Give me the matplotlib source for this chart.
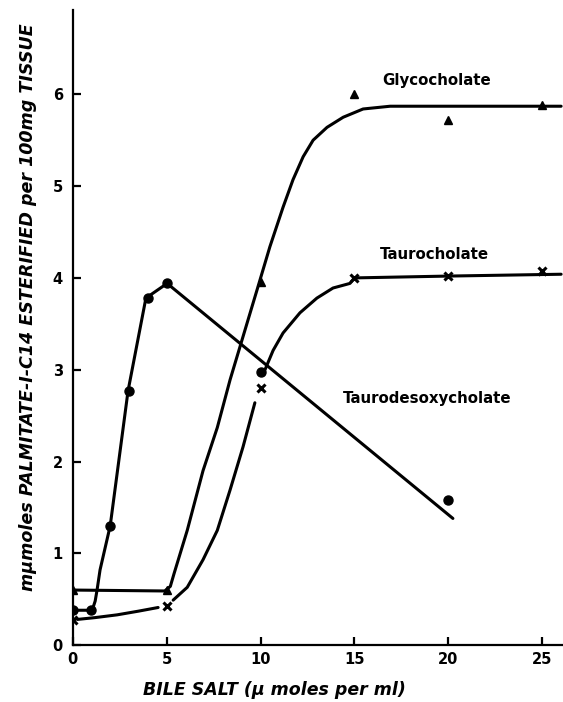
import matplotlib.pyplot as plt

# measured points (bile salt conc, umoles esterified)
glyco_x = [0, 5, 10, 15, 20, 25]
glyco_y = [0.6, 0.6, 3.95, 6.0, 5.72, 5.88]
tauro_x = [0, 5, 10, 15, 20, 25]
tauro_y = [0.27, 0.43, 2.8, 4.0, 4.02, 4.08]
tdesoxy_x = [0, 1, 2, 3, 4, 5, 10, 20]
tdesoxy_y = [0.38, 0.38, 1.3, 2.77, 3.78, 3.94, 2.97, 1.58]

# hand-drawn fit curves
glyco_fit_x = [0, 4.9, 5.2, 5.4, 6.1, 6.94, 7.7, 8.38, 9.86, 10.5, 11.2, 11.73,
               12.27, 12.8, 13.54, 14.4, 15.46, 16.9, 26.0]
glyco_fit_y = [0.6, 0.59, 0.64, 0.78, 1.25, 1.9, 2.37, 2.89, 3.90, 4.34, 4.77, 5.07,
               5.32, 5.50, 5.64, 5.75, 5.84, 5.87, 5.87]
tauro_fit_lo_x = [0.25, 1.2, 2.37, 3.5, 4.55]
tauro_fit_lo_y = [0.28, 0.30, 0.33, 0.37, 0.41]
tauro_fit_x = [5.35, 6.1, 6.94, 7.7, 8.38, 9.07, 9.7]
tauro_fit_y = [0.49, 0.63, 0.93, 1.25, 1.69, 2.16, 2.64]
tauro_fit2_x = [10.24, 10.67, 11.2, 12.1, 13.0, 13.86, 14.76, 15.0, 20.0, 26.0]
tauro_fit2_y = [3.0, 3.21, 3.40, 3.62, 3.78, 3.89, 3.94, 4.0, 4.02, 4.04]
tdesoxy_fit_x = [0, 1.04, 1.2, 1.3, 1.46, 2.0, 2.95, 3.9, 5.03, 20.24]
tdesoxy_fit_y = [0.38, 0.38, 0.48, 0.6, 0.82, 1.30, 2.77, 3.78, 3.94, 1.38]

fig = plt.figure(figsize=(5.63, 7.02), dpi=100)
ax = fig.add_axes([0.129, 0.081, 0.871, 0.905])

lw = 2.2
for fx, fy in [(glyco_fit_x, glyco_fit_y), (tauro_fit_lo_x, tauro_fit_lo_y),
               (tauro_fit_x, tauro_fit_y), (tauro_fit2_x, tauro_fit2_y),
               (tdesoxy_fit_x, tdesoxy_fit_y)]:
    ax.plot(fx, fy, color="black", lw=lw, solid_joinstyle="round",
            solid_capstyle="round")

ax.plot(glyco_x, glyco_y, "^", color="black", ms=5.5, ls="none")
ax.plot(tauro_x, tauro_y, "x", color="black", ms=6, mew=2.2, ls="none")
ax.plot(tdesoxy_x, tdesoxy_y, "o", color="black", ms=6.5, ls="none")

ax.set_xlim(0, 26.1)
ax.set_ylim(0, 6.92)
ax.spines["top"].set_visible(False)
ax.spines["right"].set_visible(False)
ax.spines["left"].set_linewidth(1.6)
ax.spines["bottom"].set_linewidth(1.6)

ax.set_xticks([0, 5, 10, 15, 20, 25])
ax.set_yticks([0, 1, 2, 3, 4, 5, 6])
ax.tick_params(direction="in", length=6, width=1.6, labelsize=10.5)
for lab in ax.get_xticklabels() + ax.get_yticklabels():
    lab.set_fontweight("bold")
ax.tick_params(axis="x", pad=5)
ax.tick_params(axis="y", pad=7)

txt = dict(fontsize=10.8, fontweight="bold", color="black")
ax.text(16.5, 6.15, "Glycocholate", va="center", **txt)
ax.text(16.36, 4.25, "Taurocholate", va="center", **txt)
ax.text(14.4, 2.69, "Taurodesoxycholate", va="center", **txt)

fig.text(0.05, 0.563, "m\u03bcmoles PALMITATE-I-C14 ESTERIFIED per 100mg TISSUE",
         rotation=90, ha="center", va="center", fontsize=12.6,
         fontweight="bold", style="italic")
fig.text(0.488, 0.017, "BILE SALT (\u03bc moles per ml)", ha="center", va="center",
         fontsize=12.5, fontweight="bold", style="italic")

fig.savefig("out.png", dpi=100)
